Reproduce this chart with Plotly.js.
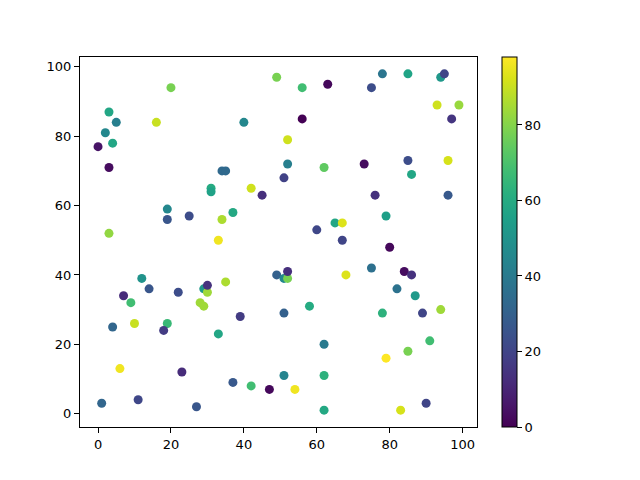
<!DOCTYPE html>
<html>
<head>
<meta charset="utf-8">
<script src="https://cdn.plot.ly/plotly-3.0.1.min.js"></script>
<style>html,body{margin:0;padding:0;background:#fff;}#chart{width:640px;height:480px;}</style>
</head>
<body>
<div id="chart"></div>
<script>
const xs = [0,2,3,5,4,3,16,20,3,7,4,6,1,11,9,10,12,14,19,19,19,18,22,25,23,27,28,29,29,30,30,31,31,33,34,35,34,35,33,37,39,37,40,42,42,45,47,49,49,51,52,52,51,52,52,51,51,54,56,56,58,62,60,63,62,62,62,65,67,67,68,73,75,76,75,78,79,78,79,80,82,84,86,85,85,86,87,83,85,89,90,91,93,94,95,94,96,97,99,96];
const ys = [77,81,87,84,78,71,84,94,52,34,25,13,3,4,32,26,39,36,59,56,26,24,35,57,12,2,32,31,36,35,37,65,64,50,70,70,56,38,23,58,28,9,84,65,8,63,7,97,40,68,72,79,39,39,41,29,11,7,94,85,31,71,53,95,20,11,1,55,55,50,40,72,94,63,42,98,57,29,16,48,36,41,40,98,73,69,34,1,18,29,3,21,89,97,98,30,73,85,89,63];
const colorValues = [5,45,58,42,58,3,90,78,82,12,32,96,32,21,68,90,50,26,45,26,66,17,23,23,12,26,84,84,52,84,14,60,56,96,33,33,86,86,58,59,17,27,45,91,68,13,2,78,30,19,42,91,45,78,13,30,44,96,68,0,60,74,21,2,40,63,59,58,93,20,93,3,23,14,36,38,55,63,98,2,37,3,14,57,23,58,53,92,78,20,20,68,91,52,20,84,92,15,83,27];
const xTicks = [0,20,40,60,80,100];
const yTicks = [0,20,40,60,80,100];
const cbTicks = [0,20,40,60,80];

const fontFam = "DejaVu Sans, sans-serif";
const trace = {
  type: 'scatter',
  mode: 'markers',
  x: xs,
  y: ys,
  marker: {
    size: 9,
    color: colorValues,
    colorscale: 'Viridis',
    cmin: 0,
    cmax: 98,
    line: {width: 0},
    colorbar: {
      x: 1.063, xanchor: 'left', xpad: 0,
      y: 0.5, yanchor: 'middle', ypad: 0,
      len: 1, lenmode: 'fraction',
      thickness: 15,
      outlinecolor: '#000', outlinewidth: 1,
      ticks: 'outside', ticklen: 5, tickcolor: '#000',
      tickvals: cbTicks,
      tickfont: {family: fontFam, size: 13, color: '#000'}
    }
  },
  hoverinfo: 'x+y'
};
const axisCommon = {
  showgrid: false, zeroline: false,
  showline: true, linecolor: '#000', linewidth: 1, mirror: true,
  ticks: 'outside', ticklen: 5, tickcolor: '#000',
  tickfont: {family: fontFam, size: 13, color: '#000'}
};
const layout = {
  width: 640, height: 480,
  margin: {l: 80, r: 163, t: 57, b: 53},
  paper_bgcolor: '#fff', plot_bgcolor: '#fff',
  showlegend: false,
  xaxis: Object.assign({}, axisCommon, {range: [-4.95, 103.95], tickvals: xTicks}),
  yaxis: Object.assign({}, axisCommon, {range: [-3.85, 102.85], tickvals: yTicks})
};
Plotly.newPlot('chart', [trace], layout, {displayModeBar: false, staticPlot: true});
</script>
</body>
</html>
